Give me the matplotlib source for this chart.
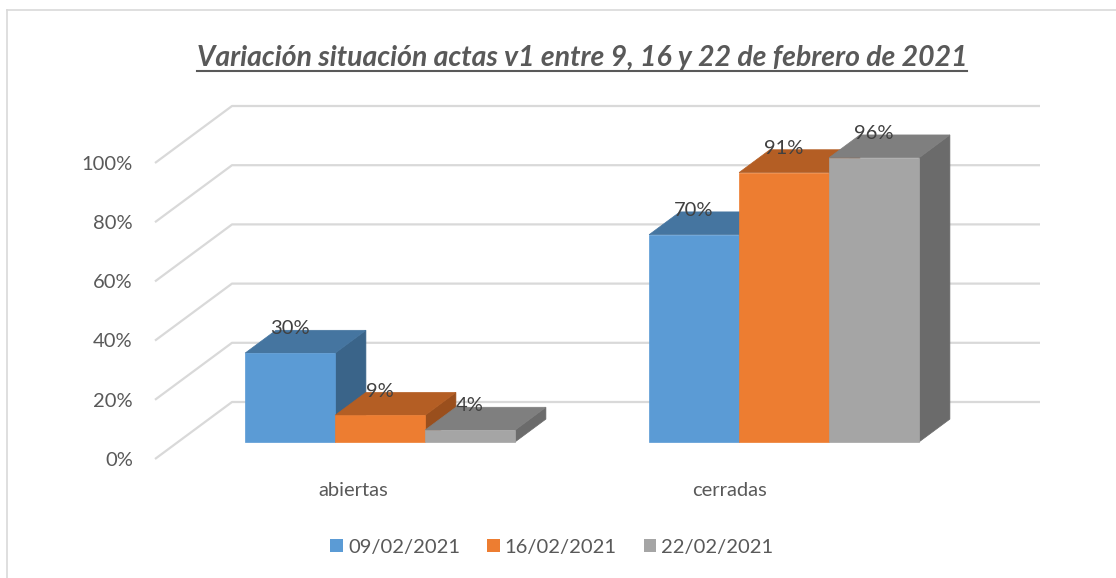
import matplotlib
matplotlib.use("Agg")
import matplotlib.pyplot as plt
from matplotlib.patches import Polygon, Patch
from matplotlib.lines import Line2D

# ---- data ----
categories = ["abiertas", "cerradas"]
series_names = ["09/02/2021", "16/02/2021", "22/02/2021"]
values_0902 = [0.30, 0.70]
values_1602 = [0.09, 0.91]
values_2202 = [0.04, 0.96]
yticks = [0.0, 0.2, 0.4, 0.6, 0.8, 1.0]
ytick_labels = ["0%", "20%", "40%", "60%", "80%", "100%"]
title = "Variación situación actas v1 entre 9, 16 y 22 de febrero de 2021"

series_values = [values_0902, values_1602, values_2202]
front_colors = ["#5B9BD5", "#ED7D31", "#A5A5A5"]
top_colors = ["#4575A0", "#B45E24", "#7F7F7F"]
side_colors = ["#3A6489", "#9A4F1D", "#6B6B6B"]

FONT = "Lato"
TXT = "#595959"
GRID = "#D9D9D9"

W, H = 1116, 578
fig = plt.figure(figsize=(W / 100, H / 100), dpi=100)

# front plane of the 3-D box
ax = fig.add_axes([155 / W, 1 - 459 / H, 808 / W, 296 / H])
ax.set_xlim(-0.5, 1.5)
ax.set_ylim(0, 1)
ax.axis("off")

DX = 77 / 404   # depth offset in category units
DY = 57 / 296   # depth offset in value units
Z0, Z1 = 0.30, 0.70
BW = 90 / 404   # bar width (category units)


def proj(x, y, z):
    return (x + DX * z, y + DY * z)


# gridlines: side wall diagonals + back wall horizontals
xmin, xmax = ax.get_xlim()
for v in yticks:
    p0 = proj(xmin, v, 0)
    p1 = proj(xmin, v, 1)
    p2 = proj(xmax, v, 1)
    ax.plot([p0[0], p1[0], p2[0]], [p0[1], p1[1], p2[1]], color=GRID,
            lw=1.6, clip_on=False, solid_capstyle="butt", zorder=1)

# tick labels
for v, lab in zip(yticks, ytick_labels):
    ax.annotate(lab, (xmin, v), xytext=(-16, -1), textcoords="offset points",
                ha="right", va="center", fontsize=14.5, color=TXT,
                family=FONT, annotation_clip=False)

# bars
zo = 2
for ci, cat in enumerate(categories):
    for si, vals in enumerate(series_values):
        v = vals[ci]
        x0 = ci - 1.5 * BW + si * BW
        x1 = x0 + BW
        front = [proj(x0, 0, Z0), proj(x1, 0, Z0), proj(x1, v, Z0), proj(x0, v, Z0)]
        top = [proj(x0, v, Z0), proj(x1, v, Z0), proj(x1, v, Z1), proj(x0, v, Z1)]
        side = [proj(x1, 0, Z0), proj(x1, 0, Z1), proj(x1, v, Z1), proj(x1, v, Z0)]
        for pts, col in ((side, side_colors[si]), (top, top_colors[si]),
                         (front, front_colors[si])):
            ax.add_patch(Polygon(pts, closed=True, facecolor=col, edgecolor=col,
                                 lw=0.5, clip_on=False, zorder=zo))
        zo += 1
        # data label
        cx, _ = proj((x0 + x1) / 2, v, Z0)
        _, ty = proj(x0, v, Z1)
        ax.annotate(f"{round(v * 100)}%", (cx, ty), xytext=(0, -3),
                    textcoords="offset points", ha="center", va="baseline",
                    fontsize=14.5, color="#404040", family=FONT,
                    annotation_clip=False, zorder=50)

# category labels
cat_label_x = [-0.01, 0.922]
for cx, cat in zip(cat_label_x, categories):
    ax.annotate(cat, (cx, 0), xytext=(0, -22.5), textcoords="offset points",
                ha="center", va="center", fontsize=14.5, color=TXT,
                family=FONT, annotation_clip=False)

# legend
handles = [Patch(facecolor=c, edgecolor="none") for c in front_colors]
fig.legend(handles, series_names, loc="center", ncol=3,
           bbox_to_anchor=(552 / W, 1 - 547 / H), frameon=False,
           handlelength=0.62, handleheight=0.62, handletextpad=0.25,
           columnspacing=1.35, borderaxespad=0,
           prop={"family": FONT, "size": 14.5}, labelcolor=TXT)

# title with underline
t = fig.text(582 / W, 1 - 66 / H, title, ha="center", va="baseline",
             fontsize=20.4, fontweight="bold", fontstyle="italic", color=TXT,
             family=FONT)
fig.canvas.draw()
bb = t.get_window_extent()
uy = 1 - 70.5 / H
fig.add_artist(Line2D([bb.x0 / W, bb.x1 / W], [uy, uy], color=TXT, lw=1.5,
                      transform=fig.transFigure))

# chart border (top and left visible)
fig.add_artist(Line2D([7 / W, 1.0], [1 - 10 / H, 1 - 10 / H], color=GRID,
                      lw=1.2, transform=fig.transFigure))
fig.add_artist(Line2D([7 / W, 7 / W], [1 - 10 / H, 0.0], color=GRID,
                      lw=1.2, transform=fig.transFigure))

fig.savefig("out.png", dpi=100)
